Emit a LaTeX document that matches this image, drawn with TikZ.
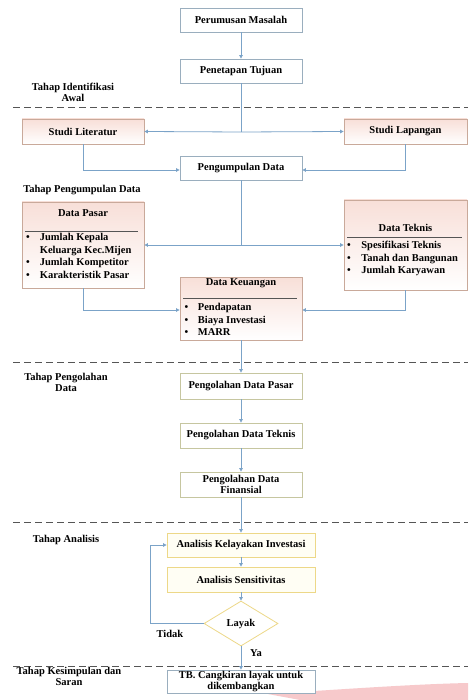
\documentclass[tikz,border=0pt]{standalone}
\usepackage{fontspec}
\setmainfont{Liberation Serif}
\usetikzlibrary{shapes.geometric,arrows.meta}
\definecolor{conn}{HTML}{7BA3C8}
\definecolor{bgray}{HTML}{9AAEBE}
\definecolor{peachd}{HTML}{C9A99A}
\definecolor{peachf}{HTML}{F8DFD8}
\definecolor{olived}{HTML}{C6C6A0}
\definecolor{yeld}{HTML}{EDD888}
\definecolor{yelf}{HTML}{FFFEF4}
\definecolor{dashc}{HTML}{555555}
\definecolor{swoosh}{HTML}{F7C9CB}
\tikzset{
  txt/.style={font=\fontsize{10.5}{11}\selectfont\bfseries, align=center},
  bluebox/.style={txt, draw=bgray, fill=white, line width=0.8pt, inner sep=1pt},
  peachbox/.style={draw=peachd, top color=peachf, bottom color=white, line width=0.8pt, inner sep=0pt},
  olivebox/.style={txt, draw=olived, fill=white, line width=0.8pt, inner sep=1pt},
  yelbox/.style={txt, draw=yeld, fill=yelf, line width=0.8pt, inner sep=1pt},
  conline/.style={draw=conn, line width=0.8pt},
  conarrow/.style={conline, -{Triangle[length=3.5pt,width=3.5pt]}},
  phase/.style={draw=dashc, line width=0.9pt, dash pattern=on 7pt off 4pt},
  stage/.style={txt},
  listtxt/.style={font=\fontsize{10.5}{12.5}\selectfont\bfseries, align=left, inner sep=0pt},
}
\begin{document}
\begin{tikzpicture}[x=1pt,y=-1pt]
\useasboundingbox (0,0) rectangle (468,700);
\fill[white] (0,0) rectangle (468,700);
% watermark swoosh
\fill[swoosh] (268,694) .. controls (360,688) and (420,684) .. (468,683) -- (468,700) -- (300,700) .. controls (290,698) and (278,696) .. (268,694) -- cycle;

% phase lines
\coordinate (d1a) at (13,107); \coordinate (d1b) at (468,107);
\coordinate (d2a) at (13,362); \coordinate (d2b) at (468,362);
\coordinate (d3a) at (13,522); \coordinate (d3b) at (468,522);
\coordinate (d4a) at (13,666.5); \coordinate (d4b) at (468,666.5);
\draw[phase] (d1a) -- (d1b);
\draw[phase] (d2a) -- (d2b);
\draw[phase] (d3a) -- (d3b);
\draw[phase] (d4a) -- (d4b);

% stage labels
\node[stage] (s1) at (73,92) {Tahap Identifikasi\\Awal};
\node[stage] (s2) at (82,190) {Tahap Pengumpulan Data};
\node[stage] (s3) at (66,382.5) {Tahap Pengolahan\\Data};
\node[stage] (s4) at (66,540) {Tahap Analisis};
\node[stage] (s5) at (69,676) {Tahap Kesimpulan dan\\Saran};

% top boxes
\node[bluebox, minimum width=122pt, minimum height=24pt] (pm) at (241,20) {Perumusan Masalah};
\node[bluebox, minimum width=122pt, minimum height=24pt] (pt) at (241,71) {Penetapan Tujuan};
\node[peachbox, txt, minimum width=122pt, minimum height=25pt] (sl) at (83,131.5) {Studi Literatur};
\node[peachbox, txt, minimum width=123pt, minimum height=25pt] (slp) at (405.5,131.5) {Studi Lapangan};
\node[bluebox, minimum width=122pt, minimum height=24pt] (pd) at (241,168) {Pengumpulan Data};

% data boxes
\node[peachbox, minimum width=122pt, minimum height=86pt] (dp) at (83,245) {};
\node[txt] (dpt) at (83,213) {Data Pasar};
\draw[draw=dashc, line width=0.6pt] (25,231) -- (138,231);
\node[listtxt, anchor=north west] (dpl) at (26,232) {\begin{tabular}{@{}l@{\hspace{10pt}}l@{}}\textbullet & Jumlah Kepala\\ & Keluarga Kec.Mijen\\ \textbullet & Jumlah Kompetitor\\ \textbullet & Karakteristik Pasar\end{tabular}};

\node[peachbox, minimum width=123pt, minimum height=90pt] (dt) at (405.5,245) {};
\node[txt] (dtt) at (405.5,228) {Data Teknis};
\draw[draw=dashc, line width=0.6pt] (347,237) -- (462,237);
\node[listtxt, anchor=north west] (dtl) at (347,240) {\begin{tabular}{@{}l@{\hspace{10.5pt}}l@{}}\textbullet & Spesifikasi Teknis\\ \textbullet & Tanah dan Bangunan\\ \textbullet & Jumlah Karyawan\end{tabular}};

\node[peachbox, minimum width=122pt, minimum height=63pt] (dk) at (241,308.5) {};
\node[txt] (dkt) at (241,283.5) {Data Keuangan};
\draw[draw=dashc, line width=0.6pt] (183,298) -- (297,298);
\node[listtxt, anchor=north west] (dkl) at (184.5,302) {\begin{tabular}{@{}l@{\hspace{9.5pt}}l@{}}\textbullet & Pendapatan\\ \textbullet & Biaya Investasi\\ \textbullet & MARR\end{tabular}};

% processing
\node[olivebox, minimum width=122pt, minimum height=26pt] (pdp) at (241,386) {Pengolahan Data Pasar};
\node[olivebox, minimum width=122pt, minimum height=25pt] (pdt) at (241,435.5) {Pengolahan Data Teknis};
\node[olivebox, minimum width=122pt, minimum height=25pt] (pdf) at (241,484.5) {Pengolahan Data\\Finansial};

% analysis
\node[yelbox, minimum width=148pt, minimum height=24pt] (aki) at (241,545) {Analisis Kelayakan Investasi};
\node[yelbox, minimum width=148pt, minimum height=25pt] (as) at (241,579.5) {Analisis Sensitivitas};
\node[txt, diamond, draw=yeld, fill=white, line width=0.8pt, minimum width=74pt, minimum height=45pt, inner sep=0pt] (ly) at (241,623.5) {Layak};
\node[txt] (tidak) at (170,634) {Tidak};
\node[txt] (ya) at (256,653) {Ya};

% conclusion
\node[bluebox, minimum width=148pt, minimum height=23pt] (tb) at (241,681.5) {TB. Cangkiran layak untuk\\dikembangkan};

% connectors
\coordinate (j1) at (241,132);
\coordinate (j2) at (241,245);
\coordinate (lp) at (150,623.5);
\draw[conarrow] (pm) -- (pt);
\draw[conline] (pt.south) -- (j1);
\draw[conarrow] (j1) -- (sl.east);
\draw[conarrow] (j1) -- (slp.west);
\draw[conarrow] (sl.south) |- ([yshift=-2pt]pd.west);
\draw[conarrow] (slp.south) |- ([yshift=-2pt]pd.east);
\draw[conline] (pd.south) -- (j2);
\draw[conarrow] (j2) -- (dp.east);
\draw[conarrow] (j2) -- (dt.west);
\draw[conarrow] (dp.south) |- ([yshift=-1.5pt]dk.west);
\draw[conarrow] (dt.south) |- ([yshift=-1.5pt]dk.east);
\draw[conarrow] (dk.south) -- (pdp.north);
\draw[conarrow] (pdp) -- (pdt);
\draw[conarrow] (pdt) -- (pdf);
\draw[conarrow] (pdf) -- (aki);
\draw[conarrow] (aki) -- (as);
\draw[conarrow] (as) -- (ly.north);
\draw[conline] (ly.west) -- (lp);
\draw[conarrow] (lp) |- (aki.west);
\draw[conarrow] (ly.south) -- (tb.north);
\end{tikzpicture}
\end{document}
